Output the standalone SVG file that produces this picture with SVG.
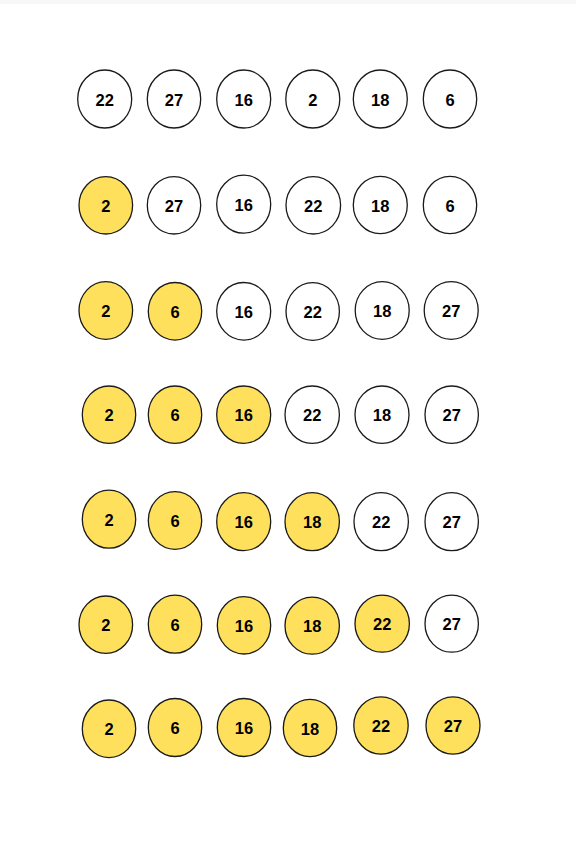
<svg xmlns="http://www.w3.org/2000/svg" width="576" height="847" viewBox="0 0 576 847">
<style>
.c{stroke:#1a1a1a;stroke-width:1.3;fill:#ffffff}
.y{fill:#ffe05c}
text{font-family:"Liberation Sans",Arial,sans-serif;font-weight:bold;font-size:16.5px;fill:#000;text-anchor:middle}
</style>
<rect width="576" height="847" fill="#ffffff"/>
<rect width="576" height="4" fill="#f7f7f7"/>
<g id="r1">
<g id="n1-1"><ellipse class="c" cx="104.7" cy="99" rx="27" ry="29"/><text x="104.7" y="105.5">22</text></g>
<g id="n1-2"><ellipse class="c" cx="174" cy="99" rx="26.7" ry="29"/><text x="174" y="105.5">27</text></g>
<g id="n1-3"><ellipse class="c" cx="243.7" cy="99" rx="27" ry="29"/><text x="243.7" y="105.5">16</text></g>
<g id="n1-4"><ellipse class="c" cx="312.8" cy="99" rx="27" ry="29"/><text x="312.8" y="105.5">2</text></g>
<g id="n1-5"><ellipse class="c" cx="380.3" cy="99" rx="27" ry="29"/><text x="380.3" y="105.5">18</text></g>
<g id="n1-6"><ellipse class="c" cx="450" cy="99" rx="26.7" ry="29"/><text x="450" y="105.5">6</text></g>
</g>
<g id="r2">
<g id="n2-1"><ellipse class="c y" cx="105.8" cy="205.3" rx="26.8" ry="28.7"/><text x="105.8" y="211.8">2</text></g>
<g id="n2-2"><ellipse class="c" cx="174" cy="205.3" rx="26.7" ry="28.7"/><text x="174" y="211.8">27</text></g>
<g id="n2-3"><ellipse class="c" cx="243.7" cy="204.2" rx="27" ry="29"/><text x="243.7" y="210.7">16</text></g>
<g id="n2-4"><ellipse class="c" cx="313.3" cy="205.3" rx="27.3" ry="28.7"/><text x="313.3" y="211.8">22</text></g>
<g id="n2-5"><ellipse class="c" cx="380.3" cy="205" rx="27" ry="28.7"/><text x="380.3" y="211.5">18</text></g>
<g id="n2-6"><ellipse class="c" cx="450" cy="205" rx="26.7" ry="28.7"/><text x="450" y="211.5">6</text></g>
</g>
<g id="r3">
<g id="n3-1"><ellipse class="c y" cx="105.8" cy="310.5" rx="26.8" ry="28.8"/><text x="105.8" y="317">2</text></g>
<g id="n3-2"><ellipse class="c y" cx="175" cy="311.3" rx="26.7" ry="28.8"/><text x="175" y="317.8">6</text></g>
<g id="n3-3"><ellipse class="c" cx="243.7" cy="311.3" rx="27" ry="28.8"/><text x="243.7" y="317.8">16</text></g>
<g id="n3-4"><ellipse class="c" cx="312.7" cy="311.5" rx="26.7" ry="28.8"/><text x="312.7" y="318">22</text></g>
<g id="n3-5"><ellipse class="c" cx="382.2" cy="310.5" rx="27" ry="28.8"/><text x="382.2" y="317">18</text></g>
<g id="n3-6"><ellipse class="c" cx="451.2" cy="310.5" rx="27" ry="28.8"/><text x="451.2" y="317">27</text></g>
</g>
<g id="r4">
<g id="n4-1"><ellipse class="c y" cx="109" cy="414.7" rx="26.7" ry="28.7"/><text x="109" y="421.2">2</text></g>
<g id="n4-2"><ellipse class="c y" cx="175" cy="414.7" rx="26.7" ry="28.7"/><text x="175" y="421.2">6</text></g>
<g id="n4-3"><ellipse class="c y" cx="243.7" cy="414.7" rx="27" ry="28.7"/><text x="243.7" y="421.2">16</text></g>
<g id="n4-4"><ellipse class="c" cx="312.2" cy="414.7" rx="27.2" ry="28.7"/><text x="312.2" y="421.2">22</text></g>
<g id="n4-5"><ellipse class="c" cx="382" cy="414.7" rx="27" ry="28.7"/><text x="382" y="421.2">18</text></g>
<g id="n4-6"><ellipse class="c" cx="451.7" cy="414.7" rx="26.7" ry="28.7"/><text x="451.7" y="421.2">27</text></g>
</g>
<g id="r5">
<g id="n5-1"><ellipse class="c y" cx="109" cy="519.2" rx="26.7" ry="29"/><text x="109" y="525.7">2</text></g>
<g id="n5-2"><ellipse class="c y" cx="175" cy="520.5" rx="26.7" ry="28.8"/><text x="175" y="527">6</text></g>
<g id="n5-3"><ellipse class="c y" cx="243.7" cy="521.7" rx="27" ry="29"/><text x="243.7" y="528.2">16</text></g>
<g id="n5-4"><ellipse class="c y" cx="312.2" cy="521.7" rx="27.2" ry="29"/><text x="312.2" y="528.2">18</text></g>
<g id="n5-5"><ellipse class="c" cx="381.2" cy="521.7" rx="27.2" ry="29"/><text x="381.2" y="528.2">22</text></g>
<g id="n5-6"><ellipse class="c" cx="451.7" cy="521.7" rx="26.7" ry="29"/><text x="451.7" y="528.2">27</text></g>
</g>
<g id="r6">
<g id="n6-1"><ellipse class="c y" cx="105.8" cy="624.7" rx="26.8" ry="28.7"/><text x="105.8" y="631.2">2</text></g>
<g id="n6-2"><ellipse class="c y" cx="175" cy="624.2" rx="26.7" ry="29"/><text x="175" y="630.7">6</text></g>
<g id="n6-3"><ellipse class="c y" cx="244" cy="625.3" rx="26.7" ry="28.7"/><text x="244" y="631.8">16</text></g>
<g id="n6-4"><ellipse class="c y" cx="312.2" cy="625.7" rx="27.2" ry="28.5"/><text x="312.2" y="632.2">18</text></g>
<g id="n6-5"><ellipse class="c y" cx="382.2" cy="623.7" rx="27.2" ry="28.5"/><text x="382.2" y="630.2">22</text></g>
<g id="n6-6"><ellipse class="c" cx="451.7" cy="623.7" rx="26.7" ry="28.5"/><text x="451.7" y="630.2">27</text></g>
</g>
<g id="r7">
<g id="n7-1"><ellipse class="c y" cx="109" cy="728.8" rx="26.7" ry="28.8"/><text x="109" y="735.3">2</text></g>
<g id="n7-2"><ellipse class="c y" cx="175" cy="727.5" rx="26.7" ry="29"/><text x="175" y="734">6</text></g>
<g id="n7-3"><ellipse class="c y" cx="244" cy="727.5" rx="26.7" ry="29"/><text x="244" y="734">16</text></g>
<g id="n7-4"><ellipse class="c y" cx="310" cy="728" rx="26.7" ry="28.7"/><text x="310" y="734.5">18</text></g>
<g id="n7-5"><ellipse class="c y" cx="381" cy="725.5" rx="27.2" ry="28.7"/><text x="381" y="732">22</text></g>
<g id="n7-6"><ellipse class="c y" cx="453" cy="725.5" rx="27" ry="28.7"/><text x="453" y="732">27</text></g>
</g>
<g id="connectors"/>
</svg>
